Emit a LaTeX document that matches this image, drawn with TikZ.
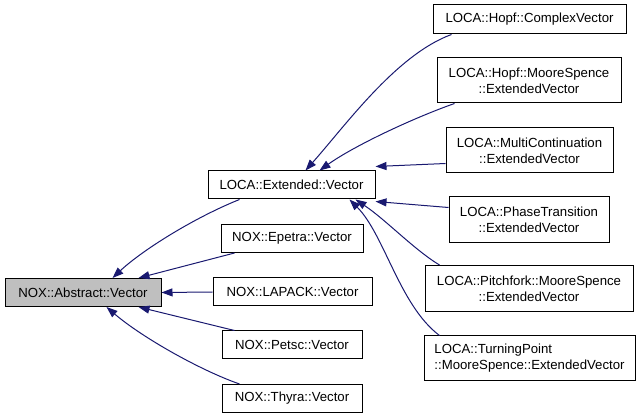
\documentclass[tikz,border=0pt]{standalone}
\usepackage{fontspec}
\setmainfont{Liberation Sans}
\usetikzlibrary{arrows.meta}
\definecolor{edgeblue}{HTML}{191970}
\definecolor{basegray}{HTML}{BFBFBF}
\tikzset{
  cls/.style={draw=black, line width=1pt, fill=white, inner sep=0pt, font=\fontsize{13.2}{16}\selectfont, align=center},
  edge/.style={draw=edgeblue, line width=1pt, -{Triangle[length=11pt,width=8pt]}},
}
\begin{document}
\begin{tikzpicture}[x=1pt,y=-1pt]
\useasboundingbox (0,0) rectangle (640,419);
% base
\node[cls, fill=basegray, minimum width=156pt, minimum height=28pt] (abs) at (83,292.5) {NOX::Abstract::Vector};
\node[cls, minimum width=167pt, minimum height=28pt] (ext) at (291.5,185) {LOCA::Extended::Vector};
\node[cls, minimum width=142pt, minimum height=28pt] (epetra) at (292,238.5) {NOX::Epetra::Vector};
\node[cls, minimum width=159pt, minimum height=28pt] (lapack) at (292.5,292) {NOX::LAPACK::Vector};
\node[cls, minimum width=140pt, minimum height=28pt] (petsc) at (292,345) {NOX::Petsc::Vector};
\node[cls, minimum width=140pt, minimum height=28pt] (thyra) at (292,398.5) {NOX::Thyra::Vector};
\node[cls, minimum width=193pt, minimum height=29pt] (complex) at (529.5,19.5) {LOCA::Hopf::ComplexVector};
\node[cls, minimum width=184pt, minimum height=45pt] (hopfms) at (529,80.5) {LOCA::Hopf::MooreSpence\\::ExtendedVector};
\node[cls, minimum width=167pt, minimum height=45pt] (multi) at (529.5,150.5) {LOCA::MultiContinuation\\::ExtendedVector};
\node[cls, minimum width=160pt, minimum height=46pt] (phase) at (529,220) {LOCA::PhaseTransition\\::ExtendedVector};
\node[cls, minimum width=208pt, minimum height=46pt] (pitch) at (529,288.5) {LOCA::Pitchfork::MooreSpence\\::ExtendedVector};
\node[cls, align=left, minimum width=211pt, minimum height=45pt] (turning) at (529.5,358.5) {LOCA::TurningPoint\\::MooreSpence::ExtendedVector};
% edges to NOX::Abstract::Vector
\draw[edge] ([xshift=32pt]ext.south west) .. controls +(-45,18) and +(30,-28) .. ([xshift=108pt]abs.north west);
\draw[edge] ([xshift=14pt]epetra.south west) -- ([xshift=134pt]abs.north west);
\draw[edge] (lapack.west) -- (abs.east);
\draw[edge] ([xshift=13pt]petsc.north west) -- ([xshift=134pt]abs.south west);
\draw[edge] ([xshift=18pt]thyra.north west) .. controls +(-40,-14) and +(35,30) .. ([xshift=102pt]abs.south west);
% edges to LOCA::Extended::Vector
\draw[edge] ([xshift=19pt]complex.south west) .. controls +(-55,20) and +(40,-45) .. ([xshift=98pt]ext.north west);
\draw[edge] ([xshift=18pt]hopfms.south west) .. controls +(-40,14) and +(35,-25) .. ([xshift=112pt]ext.north west);
\draw[edge] ([yshift=10pt]multi.south west) -- ([yshift=4pt]ext.north east);
\draw[edge] ([yshift=-11pt]phase.north west) -- ([yshift=-2pt]ext.south east);
\draw[edge] ([xshift=15pt]pitch.north west) .. controls +(-25,-15) and +(30,20) .. ([xshift=-20pt]ext.south east);
\draw[edge] ([xshift=16pt]turning.north west) .. controls +(-40,-30) and +(35,35) .. ([xshift=-26pt]ext.south east);
\end{tikzpicture}
\end{document}
